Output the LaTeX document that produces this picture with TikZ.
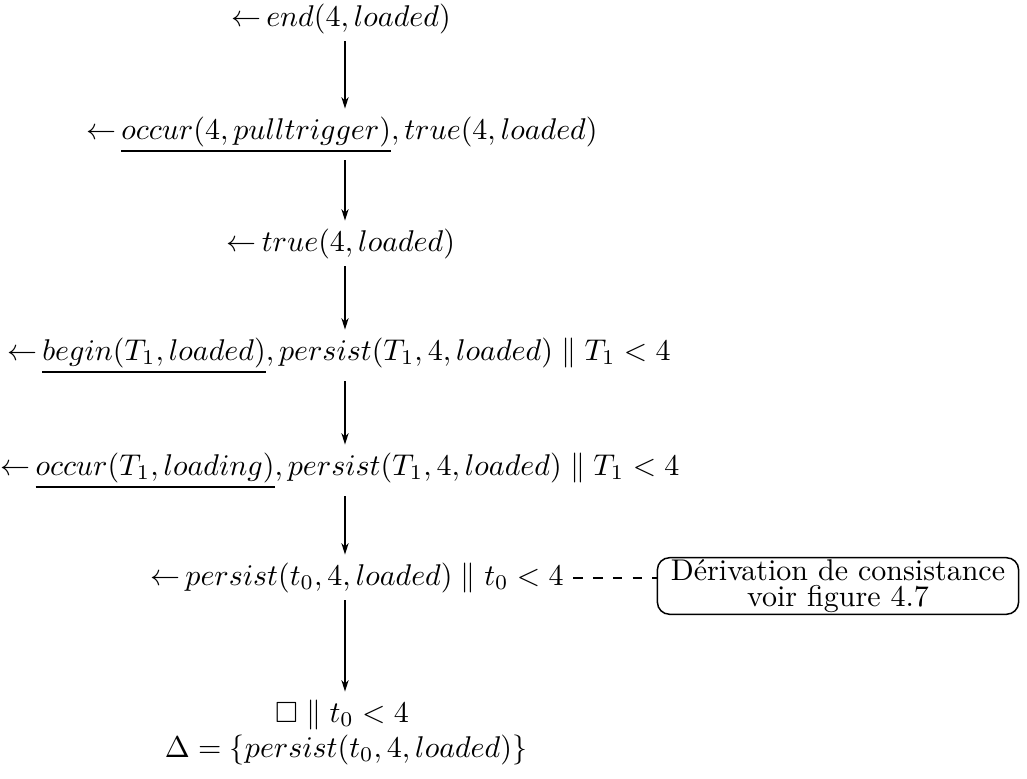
\documentclass[tikz,border=0pt]{standalone}
\usepackage{amssymb}
\usepackage{fontspec}
\usetikzlibrary{arrows.meta}
\newcommand{\lgoal}{\mathord{\leftarrow}\,}
\begin{document}
\begin{tikzpicture}[x=0.3333pt,y=-0.3333pt,
  expr/.style={inner sep=0pt, anchor=mid, font=\fontsize{9.75}{11.5}\selectfont},
  flow/.style={-{Stealth[length=3.8pt,width=2.4pt,inset=1.2pt]}, line width=0.5pt,
               shorten <=2.2pt, shorten >=2.6pt},
  link/.style={line width=0.5pt, dash pattern=on 3.2pt off 3.4pt, shorten <=3pt},
  note/.style={draw, line width=0.5pt, rounded corners=4pt, align=center,
               inner xsep=4.5pt, inner ysep=0.6pt,
               font=\fontsize{10}{8.6}\selectfont}]
\useasboundingbox (0,0) rectangle (1027,779);
\coordinate (col) at (345,0);

\node[expr] (n1) at (341,20) {$\lgoal end(4,loaded)$};
\node[expr] (n2) at (342,133) {$\lgoal \underline{occur(4,pulltrigger)}, true(4,loaded)$};
\node[expr] (n3) at (341,245) {$\lgoal true(4,loaded)$};
\node[expr] (n4) at (339,354) {$\lgoal \underline{begin(T_1,loaded)}, persist(T_1,4,loaded) \parallel T_1 < 4$};
\node[expr] (n5) at (340,469) {$\lgoal \underline{occur(T_1,loading)}, persist(T_1,4,loaded) \parallel T_1 < 4$};
\node[expr] (n6) at (357,579) {$\lgoal persist(t_0,4,loaded) \parallel t_0 < 4$};
\node[expr] (n7) at (342,716) {$\square \parallel t_0 < 4$};
\node[expr] (n8) at (346,751) {$\Delta = \{persist(t_0,4,loaded)\}$};

\node[note] (box) at (838,586) {Dérivation de consistance\\voir figure 4.7};

\draw[flow] (n1.south -| col) -- (n2.north -| col);
\draw[flow] (n2.south -| col) -- (n3.north -| col);
\draw[flow] (n3.south -| col) -- (n4.north -| col);
\draw[flow] (n4.south -| col) -- (n5.north -| col);
\draw[flow] (n5.south -| col) -- (n6.north -| col);
\draw[flow] (n6.south -| col) -- (n7.north -| col);
\draw[link] (n6.east) -- (n6.east -| box.west);
\end{tikzpicture}
\end{document}
